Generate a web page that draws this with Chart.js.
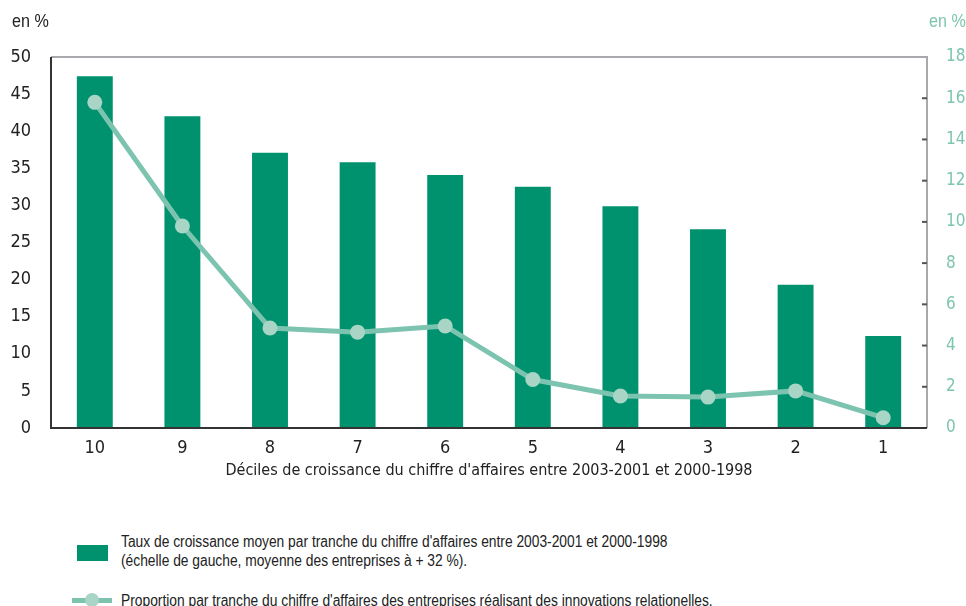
<!DOCTYPE html>
<html><head><meta charset="utf-8">
<script src="https://cdn.jsdelivr.net/npm/chart.js@4"></script>
<style>
body{margin:0;background:#fff;font-family:"Liberation Sans",Arial,sans-serif;}
#wrap{position:relative;width:966px;height:606px;overflow:hidden;}
#c{position:absolute;left:0;top:0;}
.t{position:absolute;white-space:nowrap;transform-origin:0 0;}
</style></head><body>
<div id="wrap">
<canvas id="c" width="966" height="480"></canvas>
<div class="t" style="left:12px;top:10px;font-size:19px;color:#222;transform:scaleX(0.85);">en %</div>
<div class="t" style="left:929px;top:10px;font-size:19px;color:#7cc5ae;transform:scaleX(0.85);">en %</div>
<div style="position:absolute;left:77px;top:545px;width:31px;height:16px;background:#00926e;"></div>
<div class="t" style="left:121px;top:532px;font-size:16px;line-height:19px;color:#222;transform:scaleX(0.862);">Taux de croissance moyen par tranche du chiffre d'affaires entre 2003-2001 et 2000-1998<br>(échelle de gauche, moyenne des entreprises à + 32 %).</div>
<div style="position:absolute;left:72px;top:598px;width:40px;height:5px;background:#7dc4b0;"></div>
<div style="position:absolute;left:85px;top:593px;width:14px;height:14px;border-radius:50%;background:#a8d5c6;"></div>
<div class="t" style="left:121px;top:591px;font-size:16px;line-height:19px;color:#222;transform:scaleX(0.862);">Proportion par tranche du chiffre d'affaires des entreprises réalisant des innovations relationelles.</div>
</div>
<script>
const categories = ["10","9","8","7","6","5","4","3","2","1"];
const growthRate = [47.4, 42.0, 37.1, 35.8, 34.1, 32.5, 29.9, 26.8, 19.3, 12.4];
const innovationShare = [15.8, 9.8, 4.85, 4.65, 4.95, 2.35, 1.55, 1.5, 1.8, 0.5];
const leftTicks = [0,5,10,15,20,25,30,35,40,45,50];
const rightTicks = [0,2,4,6,8,10,12,14,16,18];

const FONT = '"DejaVu Sans Condensed","Liberation Sans",sans-serif';

const framePlugin = {
  id: 'frame',
  afterDraw(chart) {
    const {ctx, chartArea: a} = chart;
    const y1 = chart.scales.y1;
    ctx.save();
    ctx.lineWidth = 2;
    ctx.strokeStyle = '#a7a9ac';
    ctx.beginPath();
    ctx.moveTo(a.left, a.top); ctx.lineTo(a.right, a.top); ctx.lineTo(a.right, a.bottom);
    ctx.stroke();
    ctx.strokeStyle = '#555';
    ctx.lineWidth = 2;
    y1.ticks.forEach(t => {
      if (t.value === 0 || t.value === 18) return;
      const py = y1.getPixelForValue(t.value);
      ctx.beginPath(); ctx.moveTo(a.right - 5, py); ctx.lineTo(a.right, py); ctx.stroke();
    });
    ctx.strokeStyle = '#333';
    ctx.beginPath();
    ctx.moveTo(a.left, a.top); ctx.lineTo(a.left, a.bottom); ctx.lineTo(a.right, a.bottom);
    ctx.stroke();
    ctx.restore();
  }
};

new Chart(document.getElementById('c'), {
  data: {
    labels: categories,
    datasets: [
      {
        type: 'line', data: innovationShare, yAxisID: 'y1', order: 0,
        borderColor: '#7dc4b0', borderWidth: 5, pointRadius: 7.5,
        pointBackgroundColor: '#a8d5c6', pointBorderWidth: 0, tension: 0
      },
      {
        type: 'bar', data: growthRate, yAxisID: 'y', order: 1,
        backgroundColor: '#00926e', barPercentage: 0.41, categoryPercentage: 1
      }
    ]
  },
  options: {
    responsive: false, animation: false,
    layout: {padding: {top: 57, left: 0, right: 0, bottom: 0}},
    plugins: {legend: {display: false}, tooltip: {enabled: false}},
    scales: {
      x: {
        grid: {display: false, drawTicks: false}, border: {display: false},
        ticks: {color: '#222', font: {family: FONT, size: 18}, padding: 10},
        title: {display: true, text: "Déciles de croissance du chiffre d'affaires entre 2003-2001 et 2000-1998",
          color: '#222', font: {family: FONT, size: 16}, padding: {top: 0, bottom: 0}},
        afterFit(s) { s.height = 52; }
      },
      y: {
        position: 'left', min: 0, max: 50,
        afterBuildTicks(s) { s.ticks = leftTicks.map(v => ({value: v})); },
        grid: {display: false, drawTicks: false}, border: {display: false},
        ticks: {color: '#222', font: {family: FONT, size: 18}, padding: 20},
        afterFit(s) { s.width = 51; }
      },
      y1: {
        position: 'right', min: 0, max: 18,
        afterBuildTicks(s) { s.ticks = rightTicks.map(v => ({value: v})); },
        grid: {display: false, drawTicks: false}, border: {display: false},
        ticks: {color: '#7cc5ae', font: {family: FONT, size: 17}, padding: 19},
        afterFit(s) { s.width = 39; }
      }
    }
  },
  plugins: [framePlugin]
});
</script>
</body></html>
